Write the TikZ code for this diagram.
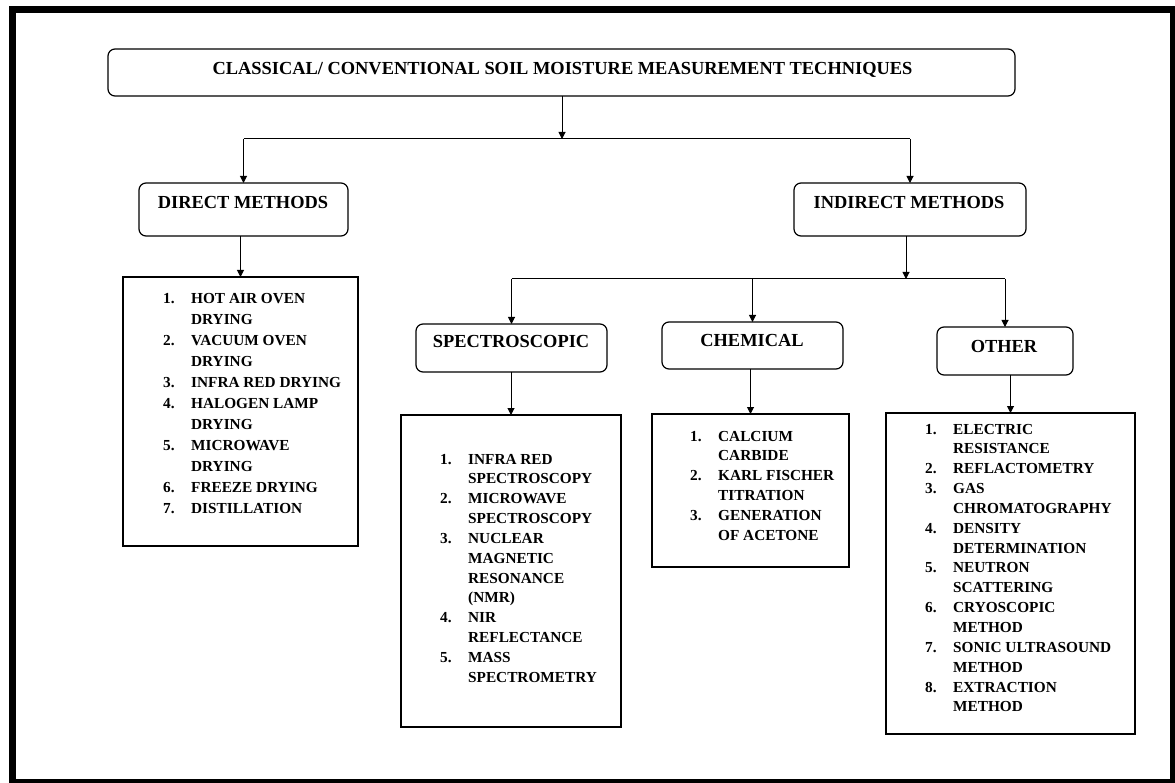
\documentclass[tikz,border=0pt]{standalone}
\usepackage{fontspec}
\setmainfont{Liberation Serif}
\usetikzlibrary{arrows.meta}

% Numbered list set as a two-column table: number, then wrapped text
\newcommand{\methodlist}[1]{\begin{tabular}[t]{@{}l@{\hspace{16.5pt}}l@{}}#1\end{tabular}}

\begin{document}
\begin{tikzpicture}[x=1pt, y=-1pt,
  headbox/.style={draw, line width=1.2pt, rounded corners=7pt, inner sep=0pt, outer sep=0pt},
  listbox/.style={draw, line width=1.2pt, inner sep=0pt, outer sep=0pt},
  headtext/.style={anchor=base, inner sep=0pt, font=\fontsize{18.4}{22}\selectfont\bfseries},
  listtext/.style={anchor=base west, inner sep=0pt, font=\fontsize{15.3}{21}\selectfont\bfseries},
  listtextb/.style={anchor=base west, inner sep=0pt, font=\fontsize{15.3}{19.85}\selectfont\bfseries},
  arr/.style={line width=1pt, -{Triangle[length=7pt, width=7pt]}},
  link/.style={line width=1pt}]

  \useasboundingbox (0,0) rectangle (1175,783);

  % outer frame
  \draw[line width=7pt] (12.5,9.5) rectangle (1173.5,782.5);

  % heading boxes
  \node[headbox, minimum width=907pt, minimum height=47pt] (title) at (561.5,72.5) {};
  \node[headbox, minimum width=209pt, minimum height=53pt] (direct) at (243.5,209.5) {};
  \node[headbox, minimum width=232pt, minimum height=53pt] (indirect) at (910,209.5) {};
  \node[headbox, minimum width=191pt, minimum height=48pt] (spec) at (511.5,348) {};
  \node[headbox, minimum width=181pt, minimum height=47pt] (chem) at (752.5,345.5) {};
  \node[headbox, minimum width=136pt, minimum height=48pt] (other) at (1005,351) {};

  % heading texts
  \node[headtext] (t-title) at (562.5,75) {CLASSICAL/ CONVENTIONAL SOIL MOISTURE MEASUREMENT TECHNIQUES};
  \node[headtext] (t-direct) at (243,209) {DIRECT METHODS};
  \node[headtext] (t-indirect) at (909,209) {INDIRECT METHODS};
  \node[headtext] (t-spec) at (511,348) {SPECTROSCOPIC};
  \node[headtext] (t-chem) at (752,347) {CHEMICAL};
  \node[headtext] (t-other) at (1004,353) {OTHER};

  % list boxes
  \node[listbox, minimum width=235pt, minimum height=269pt] (dlist) at (240.5,411.5) {};
  \node[listbox, minimum width=220pt, minimum height=312pt] (slist) at (511,571) {};
  \node[listbox, minimum width=197pt, minimum height=153pt] (clist) at (750.5,490.5) {};
  \node[listbox, minimum width=249pt, minimum height=321pt] (olist) at (1010.5,573.5) {};

  % list texts
  \node[listtext] (t-dlist) at (163,304) {\methodlist{%
    1. & HOT AIR OVEN\\ & DRYING\\
    2. & VACUUM OVEN\\ & DRYING\\
    3. & INFRA RED DRYING\\
    4. & HALOGEN LAMP\\ & DRYING\\
    5. & MICROWAVE\\ & DRYING\\
    6. & FREEZE DRYING\\
    7. & DISTILLATION}};
  \node[listtextb] (t-slist) at (440,464) {\methodlist{%
    1. & INFRA RED\\ & SPECTROSCOPY\\
    2. & MICROWAVE\\ & SPECTROSCOPY\\
    3. & NUCLEAR\\ & MAGNETIC\\ & RESONANCE\\ & (NMR)\\
    4. & NIR\\ & REFLECTANCE\\
    5. & MASS\\ & SPECTROMETRY}};
  \node[listtextb] (t-clist) at (690,441) {\methodlist{%
    1. & CALCIUM\\ & CARBIDE\\
    2. & KARL FISCHER\\ & TITRATION\\
    3. & GENERATION\\ & OF ACETONE}};
  \node[listtextb] (t-olist) at (925,434) {\methodlist{%
    1. & ELECTRIC\\ & RESISTANCE\\
    2. & REFLACTOMETRY\\
    3. & GAS\\ & CHROMATOGRAPHY\\
    4. & DENSITY\\ & DETERMINATION\\
    5. & NEUTRON\\ & SCATTERING\\
    6. & CRYOSCOPIC\\ & METHOD\\
    7. & SONIC ULTRASOUND\\ & METHOD\\
    8. & EXTRACTION\\ & METHOD}};

  % branching points
  \coordinate (hub1) at (562,139);
  \coordinate (hub2) at (906,279);

  % top level connectors
  \draw[arr] (title.south -| hub1) -- (hub1);
  \draw[link] (direct.north |- hub1) -- (indirect.north |- hub1);
  \draw[arr] (direct.north |- hub1) -- (direct.north);
  \draw[arr] (indirect.north |- hub1) -- (indirect.north);
  \draw[arr] (direct.south -| dlist.north) -- (dlist.north);

  % indirect branches
  \draw[arr] (indirect.south -| hub2) -- (hub2);
  \draw[link] (spec.north |- hub2) -- (other.north |- hub2);
  \draw[arr] (spec.north |- hub2) -- (spec.north);
  \draw[arr] (chem.north |- hub2) -- (chem.north);
  \draw[arr] (other.north |- hub2) -- (other.north);

  % lists below the indirect groups
  \draw[arr] (spec.south -| slist.north) -- (slist.north);
  \draw[arr] (chem.south -| clist.north) -- (clist.north);
  \draw[arr] (other.south -| olist.north) -- (olist.north);
\end{tikzpicture}
\end{document}
